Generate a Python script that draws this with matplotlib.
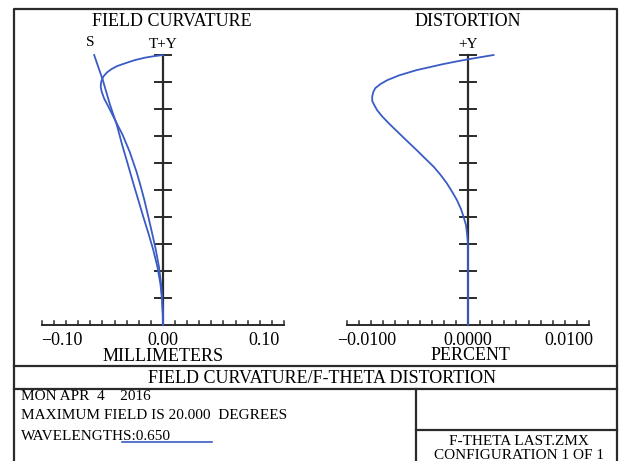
import matplotlib
matplotlib.use("Agg")
import matplotlib.pyplot as plt

plt.rcParams["font.family"] = ["Liberation Serif", "DejaVu Serif"]

# field curvature (relative field, mm)
tan_field = [1.000, 0.995, 0.990, 0.981, 0.970, 0.959, 0.948, 0.935, 0.920, 0.901,
             0.883, 0.864, 0.839, 0.809, 0.772, 0.735, 0.704, 0.641, 0.567, 0.519,
             0.463, 0.400, 0.340, 0.280, 0.215, 0.150, 0.093, 0.040, 0.000]
tan_mm = [0.0, -0.010, -0.018, -0.028, -0.037, -0.0455, -0.051, -0.0557, -0.0592, -0.0613,
          -0.0618, -0.0608, -0.0584, -0.0542, -0.0492, -0.0443, -0.0400, -0.0330, -0.0262, -0.0225,
          -0.0185, -0.0145, -0.0108, -0.0072, -0.0040, -0.0018, -0.0007, -0.0001, 0.0]
sag_field = [1.000, 0.907, 0.815, 0.741, 0.667, 0.593, 0.519, 0.463, 0.400, 0.340,
             0.280, 0.215, 0.150, 0.093, 0.040, 0.000]
sag_mm = [-0.0683, -0.0597, -0.0525, -0.0458, -0.0405, -0.0347, -0.0290, -0.0245, -0.0195, -0.0145,
          -0.0098, -0.0055, -0.0025, -0.0009, -0.0002, 0.0]

# f-theta distortion (relative field, percent)
dist_field = [1.000, 0.992, 0.984, 0.975, 0.966, 0.955, 0.944, 0.925, 0.907, 0.892,
              0.877, 0.862, 0.846, 0.830, 0.815, 0.795, 0.772, 0.745, 0.716, 0.680,
              0.648, 0.615, 0.586, 0.555, 0.525, 0.495, 0.463, 0.430, 0.401, 0.370,
              0.340, 0.310, 0.290, 0.000]
dist_pct = [0.00253, 0.00125, 0.0, -0.0013, -0.0025, -0.0038, -0.0051, -0.0068, -0.0080, -0.0087,
            -0.0092, -0.0094, -0.0095, -0.0095, -0.0093, -0.0090, -0.0085, -0.0078, -0.0070, -0.0060,
            -0.0051, -0.0042, -0.0034, -0.0027, -0.0021, -0.0016, -0.0011, -0.0007, -0.00044, -0.0002,
            -0.0001, -0.00002, 0.0, 0.0]

fc_ticks = [-0.10, 0.00, 0.10]
fc_labels = ["\u22120.10", "0.00", "0.10"]
dist_ticks = [-0.01, 0.0, 0.01]
dist_labels = ["\u22120.0100", "0.0000", "0.0100"]

W, H = 619, 461
BLUE = "#3b5cc4"
INK = "#2a2a2a"

fig = plt.figure(figsize=(W / 100, H / 100), dpi=100)

# page frame in pixel coordinates
page = fig.add_axes([0, 0, 1, 1])
page.set_xlim(0, W)
page.set_ylim(H, 0)
page.axis("off")
lw = 1.6
page.plot([14, 14, 617, 617], [470, 9, 9, 470], color=INK, lw=lw)
page.plot([14, 617], [366, 366], color=INK, lw=lw)
page.plot([14, 617], [389, 389], color=INK, lw=lw)
page.plot([416, 416], [389, 470], color=INK, lw=lw)
page.plot([416, 617], [430, 430], color=INK, lw=lw)
page.plot([122, 212], [442, 442], color=BLUE, lw=1.2)

fs = 13
fs_small = 11
page.text(322, 378, "FIELD CURVATURE/F-THETA DISTORTION", ha="center", va="center", fontsize=fs)
page.text(21, 396, "MON APR  4    2016", ha="left", va="center", fontsize=fs_small)
page.text(21, 415, "MAXIMUM FIELD IS 20.000  DEGREES", ha="left", va="center", fontsize=fs_small)
page.text(21, 436, "WAVELENGTHS:0.650", ha="left", va="center", fontsize=fs_small)
page.text(519, 441, "F-THETA LAST.ZMX", ha="center", va="center", fontsize=fs_small)
page.text(519, 455, "CONFIGURATION 1 OF 1", ha="center", va="center", fontsize=fs_small)


def plot_panel(x0_px, half_px, xmax, title, top_label, xlabel, ticks, labels):
    # axes spanning the whole figure, scaled so data maps onto the drawn panel
    k = xmax / half_px
    ax = fig.add_axes([0, 0, 1, 1])
    ax.patch.set_alpha(0)
    ax.axis("off")
    ax.set_xlim((0 - x0_px) * k, (W - x0_px) * k)
    ax.set_ylim((325 - H) / 270, 325 / 270)
    fy = 1 / 270
    ax.plot([0, 0], [0, 1], color=INK, lw=1.6, zorder=2)
    ax.plot([-xmax, xmax], [0, 0], color=INK, lw=1.4, zorder=2)
    for i in range(1, 11):
        y = i / 10
        ax.plot([-8 * k, 8 * k], [y, y], color=INK, lw=1.4, zorder=2)
    for i in range(-10, 11):
        x = xmax * i / 10
        ax.plot([x, x], [0, 4.5 * fy], color=INK, lw=1.1, zorder=2)
    for t, lab in zip(ticks, labels):
        ax.text(t, -15 * fy, lab, ha="center", va="center", fontsize=fs)
    if xlabel:
        ax.text(0, -31 * fy, xlabel, ha="center", va="center", fontsize=fs)
    if title:
        ax.text(0, 1 + 33 * fy, title, ha="center", va="center", fontsize=fs)
    ax.text(0, 1 + 11 * fy, top_label, ha="center", va="center", fontsize=fs_small)
    return ax, k, fy


ax1, k1, fy1 = plot_panel(163, 121, 0.12, "", "T+Y", "MILLIMETERS", fc_ticks, fc_labels)
ax1.text(9 * k1, 1 + 33 * fy1, "FIELD CURVATURE", ha="center", va="center", fontsize=fs)
ax1.text(-73 * k1, 1 + 13 * fy1, "S", ha="center", va="center", fontsize=fs_small)
ax1.plot(tan_mm, tan_field, color=BLUE, lw=1.3, zorder=3)
ax1.plot(sag_mm, sag_field, color=BLUE, lw=1.3, zorder=3)

ax2, k2, fy2 = plot_panel(468, 121, 0.012, "DISTORTION", "+Y", "", dist_ticks, dist_labels)
ax2.text(2 * k2, -30 * fy2, "PERCENT", ha="center", va="center", fontsize=fs)
ax2.plot(dist_pct, dist_field, color=BLUE, lw=1.3, zorder=3)

fig.savefig("out.png", dpi=100)
